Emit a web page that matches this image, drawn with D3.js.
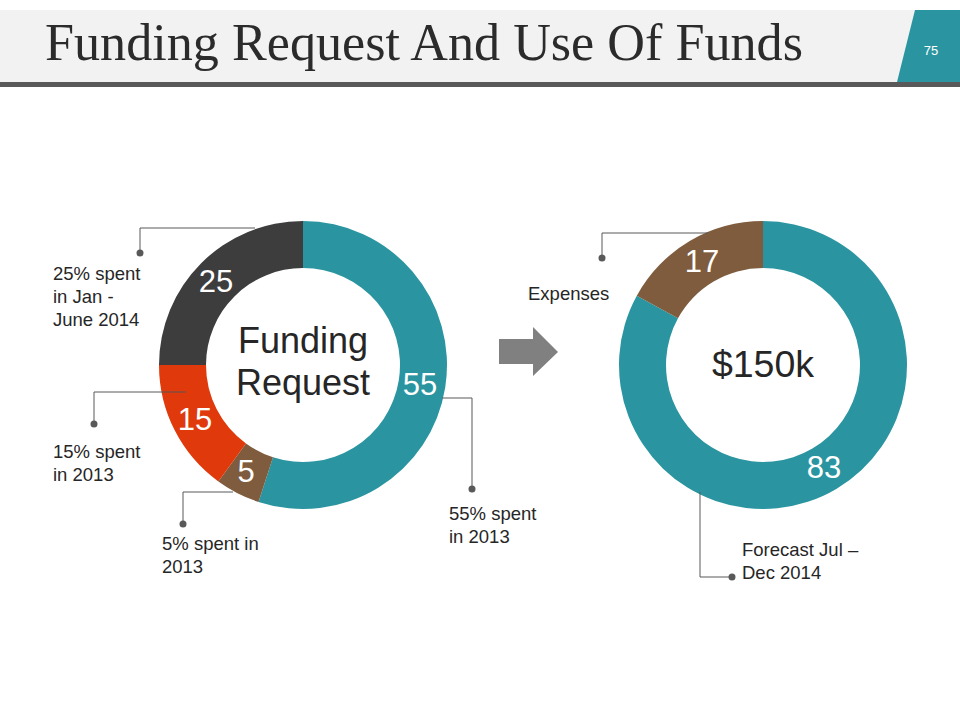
<!DOCTYPE html>
<html>
<head>
<meta charset="utf-8">
<script src="https://cdn.jsdelivr.net/npm/d3@7"></script>
<style>
  body { margin: 0; background: #fff; }
  svg { display: block; font-family: "Liberation Sans", Arial, sans-serif; }
</style>
</head>
<body>
<svg width="960" height="720"></svg>
<script>
// data
const requestLabels = ["55", "5", "15", "25"];
const requestValues = [55, 5, 15, 25];
const requestColors = ["#2a95a0", "#7e5c3d", "#e0390b", "#3d3d3d"];
const requestNotes = [
  ["55% spent", "in 2013"],
  ["5% spent in", "2013"],
  ["15% spent", "in 2013"],
  ["25% spent", "in Jan -", "June 2014"]
];

const useLabels = ["83", "17"];
const useValues = [83, 17];
const useColors = ["#2a95a0", "#7e5c3d"];
const useNotes = [["Forecast Jul \u2013", "Dec 2014"], ["Expenses"]];

const svg = d3.select("svg");

// header band
svg.append("rect").attr("x", 0).attr("y", 10).attr("width", 960).attr("height", 72).attr("fill", "#f2f2f2");
svg.append("rect").attr("x", 0).attr("y", 82).attr("width", 960).attr("height", 5).attr("fill", "#595959");
svg.append("path").attr("d", "M915,10 L960,10 L960,82 L897,82 Z").attr("fill", "#2a95a0");
svg.append("text").attr("x", 931).attr("y", 55).attr("text-anchor", "middle")
  .attr("fill", "#fff").style("font-size", "13px").text("75");
svg.append("text").attr("x", 45).attr("y", 60)
  .attr("textLength", 758).attr("lengthAdjust", "spacingAndGlyphs")
  .style("font-family", "'Liberation Serif', 'DejaVu Serif', serif")
  .style("font-size", "52px").attr("fill", "#2b2b2b")
  .text("Funding Request And Use Of Funds");

// donut helpers
const pie = d3.pie().sort(null).value(d => d);
const arc = d3.arc().innerRadius(97).outerRadius(144);

function donut(cx, cy, values, colors, labels, labelPos) {
  const g = svg.append("g").attr("transform", `translate(${cx},${cy})`);
  const arcs = pie(values);
  g.selectAll("path").data(arcs).enter().append("path")
    .attr("d", arc)
    .attr("fill", (d, i) => colors[i]);
  g.selectAll("text.val").data(arcs).enter().append("text")
    .attr("class", "val")
    .attr("x", (d, i) => labelPos[i][0])
    .attr("y", (d, i) => labelPos[i][1])
    .attr("text-anchor", "middle")
    .attr("fill", "#fff")
    .style("font-size", "31px")
    .text((d, i) => labels[i]);
  return g;
}

// left donut
const left = donut(303, 365, requestValues, requestColors, requestLabels,
  [[117, 30], [-57, 117], [-108, 65], [-87, -73]]);
left.append("text").attr("text-anchor", "middle").attr("fill", "#262626")
  .style("font-size", "36px")
  .selectAll("tspan").data(["Funding", "Request"]).enter().append("tspan")
  .attr("x", 0).attr("y", (d, i) => -12 + i * 42).text(d => d);

// right donut
const right = donut(763, 365, useValues, useColors, useLabels,
  [[61, 113], [-61, -93]]);
right.append("text").attr("text-anchor", "middle").attr("y", 12)
  .attr("fill", "#262626").style("font-size", "37.5px").text("$150k");

// arrow
svg.append("path")
  .attr("d", "M499,339 L533,339 L533,327 L558,352 L533,376 L533,364 L499,364 Z")
  .attr("fill", "#808080");

// leader lines with dots
const leaders = [
  { pts: [[442, 398], [472, 398], [472, 489]], note: requestNotes[0], tx: 449, ty: 520 },
  { pts: [[233, 492], [183, 492], [183, 524]], note: requestNotes[1], tx: 162, ty: 550 },
  { pts: [[186, 392], [94, 392], [94, 424]], note: requestNotes[2], tx: 53, ty: 458 },
  { pts: [[255, 228], [140, 228], [140, 253]], note: requestNotes[3], tx: 53, ty: 280 },
  { pts: [[700, 492], [700, 577], [732, 577]], note: useNotes[0], tx: 742, ty: 556 },
  { pts: [[708, 233], [602, 233], [602, 258]], note: useNotes[1], tx: 528, ty: 300 }
];

const line = d3.line();
leaders.forEach(l => {
  svg.append("path").attr("d", line(l.pts)).attr("fill", "none")
    .attr("stroke", "#595959").attr("stroke-width", 1);
  const end = l.pts[l.pts.length - 1];
  svg.append("circle").attr("cx", end[0]).attr("cy", end[1]).attr("r", 3.5).attr("fill", "#595959");
  svg.append("text").attr("fill", "#262626").style("font-size", "18.5px")
    .selectAll("tspan").data(l.note).enter().append("tspan")
    .attr("x", l.tx).attr("y", (d, i) => l.ty + i * 23).text(d => d);
});
</script>
</body>
</html>
